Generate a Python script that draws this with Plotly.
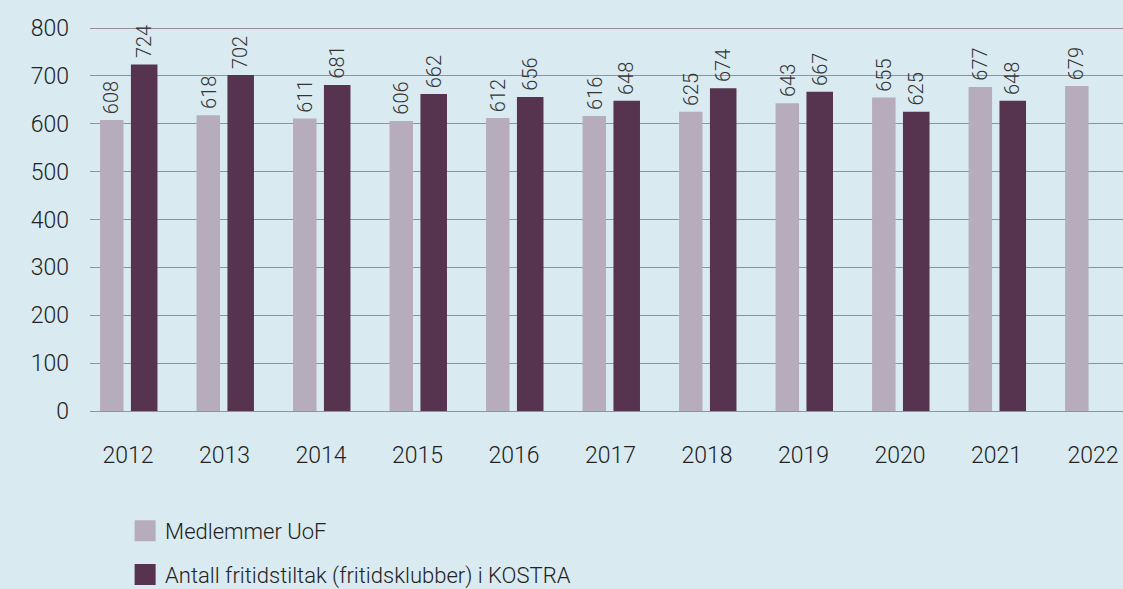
import plotly.graph_objects as go

years = ["2012", "2013", "2014", "2015", "2016", "2017", "2018", "2019", "2020", "2021", "2022"]
medlemmer_uof = [608, 618, 611, 606, 612, 616, 625, 643, 655, 677, 679]
fritidstiltak_kostra = [724, 702, 681, 662, 656, 648, 674, 667, 625, 648, None]
y_ticks = [0, 100, 200, 300, 400, 500, 600, 700, 800]

name_light = "Medlemmer UoF"
name_dark = "Antall fritidstiltak (fritidsklubber) i KOSTRA"

c_light = "#b6acbc"
c_dark = "#56344f"
bg = "#d9eaf1"
font_family = "Roboto"
txt = "#222222"

# bar geometry (fraction of category slot)
off_light, w_light = -0.29, 0.243
off_dark, w_dark = 0.03, 0.275

fig = go.Figure()
fig.add_trace(go.Bar(
    x=years, y=medlemmer_uof, name=name_light,
    marker=dict(color=c_light, line=dict(width=0)),
    offset=off_light, width=w_light, showlegend=False,
))
fig.add_trace(go.Bar(
    x=years, y=fritidstiltak_kostra, name=name_dark,
    marker=dict(color=c_dark, line=dict(width=0)),
    offset=off_dark, width=w_dark, showlegend=False,
))
# legend entries
fig.add_trace(go.Scatter(
    x=[None], y=[None], mode="markers", name=name_light, legendgroup="a",
    marker=dict(symbol="square", size=16, color=c_light, line=dict(color=c_light, width=5)),
))
fig.add_trace(go.Scatter(
    x=[None], y=[None], mode="markers", name=name_dark, legendgroup="b",
    marker=dict(symbol="square", size=16, color=c_dark, line=dict(color=c_dark, width=5)),
))

# rotated value labels above bars
label_font = dict(size=20, color="#333333", family=font_family, weight=300)
for series, off, w in ((medlemmer_uof, off_light, w_light), (fritidstiltak_kostra, off_dark, w_dark)):
    for i, v in enumerate(series):
        if v is None:
            continue
        fig.add_annotation(
            x=i + off + w / 2, y=v, xref="x", yref="y",
            text=str(v), showarrow=False, textangle=-90,
            xanchor="center", yanchor="bottom", yshift=4,
            font=label_font,
        )

fig.update_layout(
    width=1123, height=589,
    margin=dict(l=90, r=0, t=0, b=178, autoexpand=False),
    paper_bgcolor=bg, plot_bgcolor=bg,
    font=dict(family=font_family, size=22, color=txt, weight=300),
    barmode="overlay",
    legend=dict(
        x=0.034, xref="paper", y=0.134, yref="container",
        xanchor="left", yanchor="top",
        bgcolor="rgba(0,0,0,0)", font=dict(size=22, color=txt, weight=300),
        tracegroupgap=12, itemclick=False,
    ),
    xaxis=dict(
        type="category", range=[-0.394, 10.31], automargin=False,
        showgrid=False, ticks="", ticklabelstandoff=28,
        showline=False, zeroline=False,
        tickfont=dict(size=23, color=txt, weight=300),
    ),
    yaxis=dict(
        range=[0, 858.5], tickvals=y_ticks, automargin=False,
        showgrid=True, gridcolor="#9b8c9e", gridwidth=1,
        zeroline=True, zerolinecolor="#9b8c9e", zerolinewidth=1,
        ticks="", ticklabelstandoff=20, showline=False,
        tickfont=dict(size=23, color=txt, weight=300),
    ),
)

fig.write_html(
    "out.html",
    config={"displayModeBar": False},
    post_script="document.body.style.margin='0';document.body.style.overflow='hidden';",
)
